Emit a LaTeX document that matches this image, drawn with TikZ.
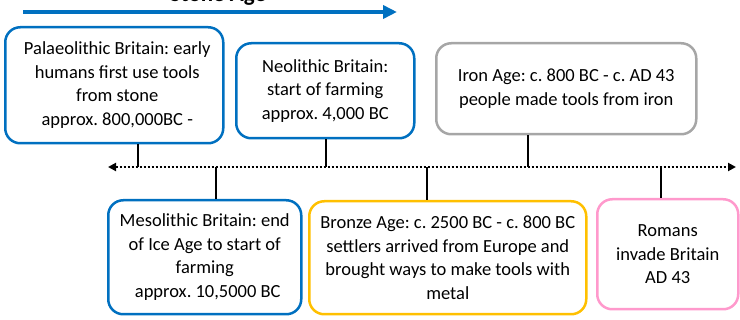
\documentclass[tikz,border=0pt]{standalone}
\usepackage{fontspec}
\setmainfont{Carlito}
\usetikzlibrary{arrows.meta}
\frenchspacing
\definecolor{boxblue}{HTML}{0070C0}
\definecolor{boxgold}{HTML}{FFC000}
\definecolor{boxgray}{HTML}{A6A6A6}
\definecolor{boxpink}{HTML}{FF99CC}
\tikzset{
  era/.style={draw=#1, line width=2.5pt, rounded corners=15pt, fill=white,
    align=center, inner sep=0pt, anchor=north west,
    font=\fontsize{18.5}{23.5}\selectfont},
  tick/.style={draw=black, line width=2.5pt},
  timeline/.style={draw=black, line width=2pt, dotted,
    {Triangle[length=8pt,width=8pt]}-{Triangle[length=8pt,width=8pt]}},
  ageline/.style={draw=boxblue, line width=4pt,
    -{Triangle[length=14pt,width=13pt]}}
}
\begin{document}
\begin{tikzpicture}[x=1pt,y=-1pt]
\useasboundingbox (0,0) rectangle (740,320);
% header
\node[font=\fontsize{23}{26}\selectfont\bfseries, anchor=base, inner sep=0pt] (title) at (218,2) {Stone Age};
\coordinate (ageL) at (23,12);
\coordinate (ageR) at (397,12);
\draw[ageline] (ageL) -- (ageR);
% boxes
\node[era=boxblue, minimum width=218pt, minimum height=116pt] (palaeo) at (4,26)
  {\hspace*{6pt}Palaeolithic Britain: early\\\hspace*{6pt}humans first use tools\\\hspace*{6pt}from stone\\\hspace*{6pt}approx. 800,000BC -};
\node[era=boxblue, minimum width=178pt, minimum height=95pt] (neo) at (235,42)
  {Neolithic Britain:\\start of farming\\approx. 4,000 BC};
\node[era=boxgray, minimum width=260pt, minimum height=91pt] (iron) at (435,42)
  {Iron Age: c. 800 BC - c. AD 43\\people made tools from iron};
\node[era=boxblue, minimum width=193pt, minimum height=114pt] (meso) at (107,199)
  {Mesolithic Britain: end\\of Ice Age to start of\\farming\\\hspace*{6pt}approx. 10,5000 BC};
\node[era=boxgold, minimum width=277pt, minimum height=113pt] (bronze) at (308,200)
  {Bronze Age: c. 2500 BC - c. 800 BC\\settlers arrived from Europe and\\brought ways to make tools with\\metal};
\node[era=boxpink, minimum width=141pt, minimum height=110pt] (romans) at (596,198)
  {Romans\\invade Britain\\AD 43};
% timeline
\coordinate (tlL) at (108,167);
\coordinate (tlR) at (736,167);
\draw[timeline] (tlL) -- (tlR);
\coordinate (t1) at (138,167);
\coordinate (t2) at (326,167);
\coordinate (t3) at (528,167);
\coordinate (t4) at (216,167);
\coordinate (t5) at (427,167);
\coordinate (t6) at (661,167);
\draw[tick] (t1) -- (t1 |- palaeo.south);
\draw[tick] (t2) -- (t2 |- neo.south);
\draw[tick] (t3) -- (t3 |- iron.south);
\draw[tick] (t4) -- (t4 |- meso.north);
\draw[tick] (t5) -- (t5 |- bronze.north);
\draw[tick] (t6) -- (t6 |- romans.north);
\end{tikzpicture}
\end{document}
